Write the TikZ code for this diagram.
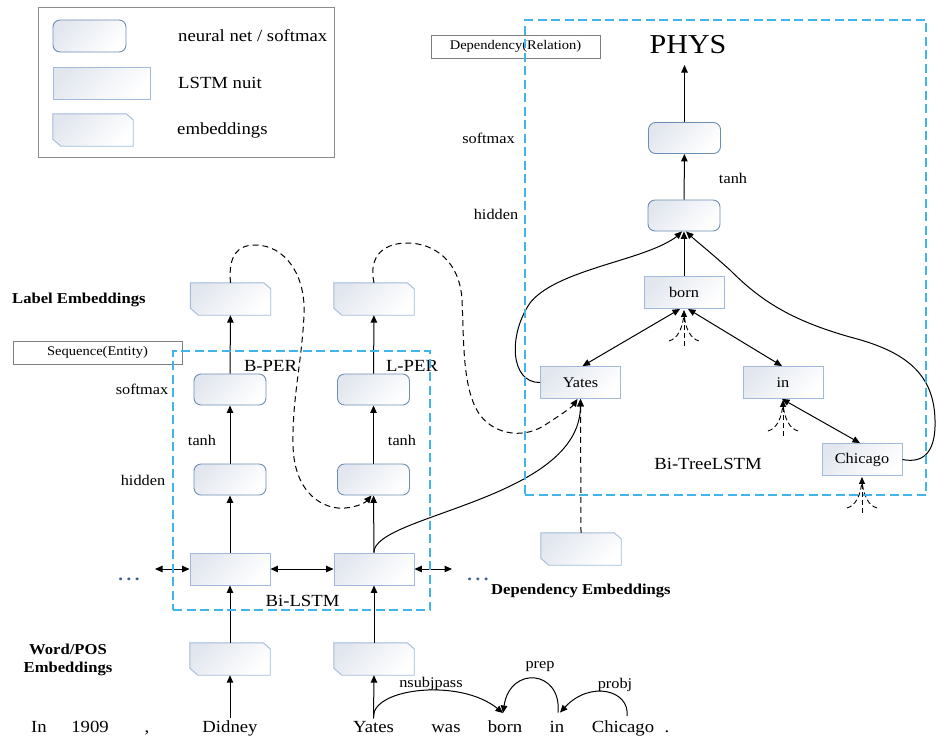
\documentclass[tikz,border=0pt]{standalone}
\usepackage{fontspec}
\setmainfont{Liberation Serif}[FakeStretch=1.1]
\usetikzlibrary{arrows.meta}

\definecolor{nnedge}{HTML}{6E8DB5}
\definecolor{lstmedge}{HTML}{A2BADA}
\definecolor{fillgray}{HTML}{E2E7EF}
\definecolor{regionblue}{HTML}{41B4EE}
\definecolor{taggray}{HTML}{7F7F7F}
\definecolor{framegray}{HTML}{8C8C8C}
\definecolor{dotblue}{HTML}{3C5F8F}

\newcommand\fsBig{\fontsize{17}{20}\selectfont}
\newcommand\fsMid{\fontsize{14.8}{17}\selectfont}
\newcommand\fsSmall{\fontsize{13.2}{15}\selectfont}
\newcommand\fsBold{\fontsize{15.1}{17.5}\selectfont\bfseries}

\tikzset{
  gradfill/.style={top color=fillgray, bottom color=white, shading angle=45},
  nnbox/.style={rectangle, rounded corners=7pt, draw=nnedge, line width=0.9pt,
    gradfill, minimum width=72pt, minimum height=31pt, inner sep=0pt},
  lstmbox/.style={rectangle, draw=lstmedge, line width=0.9pt, gradfill,
    minimum width=80pt, minimum height=32pt, inner sep=0pt, font=\fsMid},
  embanchor/.style={rectangle, minimum width=80pt, minimum height=32pt, inner sep=0pt},
  embedge/.style={draw=lstmedge, line width=0.9pt, gradfill},
  tagbox/.style={rectangle, draw=taggray, fill=white, line width=0.8pt, font=\fsSmall, inner sep=0pt},
  legendframe/.style={rectangle, draw=framegray, line width=0.9pt, inner sep=0pt},
  region/.style={draw=regionblue, line width=1.2pt, dash pattern=on 9pt off 4.5pt, inner sep=0pt},
  lbl/.style={font=\fsMid, inner sep=1pt},
  biglbl/.style={font=\fsBig, inner sep=1pt},
  boldlbl/.style={font=\fsBold, inner sep=1pt},
  word/.style={font=\fsBig, inner sep=2pt, anchor=base},
  dots/.style={text=dotblue, font=\fsBig\bfseries, inner sep=0pt, anchor=base},
  arr/.style={-{Triangle[length=7.5pt,width=6.5pt]}, line width=1pt},
  darr/.style={{Triangle[length=7.5pt,width=6.5pt]}-{Triangle[length=7.5pt,width=6.5pt]}, line width=1pt},
  dline/.style={line width=1pt, dash pattern=on 6pt off 4pt},
  dasharr/.style={arr, dash pattern=on 6pt off 4pt},
  fan/.pic={
    \draw[line width=0.9pt, dash pattern=on 5pt off 3pt] (-15,32) .. controls (-7,30) and (-1,20) .. (0,4);
    \draw[line width=0.9pt, dash pattern=on 5pt off 3pt] (15,32) .. controls (7,30) and (1,20) .. (0,4);
    \draw[line width=0.9pt, dash pattern=on 5pt off 3pt, -{Triangle[length=7pt,width=6pt]}] (0,37) -- (0,1);
  }
}

% embedding block: a named box with its top-right and bottom-left corners cut off
\newcommand\embnode[2]{%
  \node[embanchor] (#1) at (#2) {};
  \path[embedge] (#1.north west) -- ([xshift=-7pt]#1.north east)
    -- ([yshift=-6pt]#1.north east) -- (#1.south east)
    -- ([xshift=8pt]#1.south west) -- ([yshift=7pt]#1.south west) -- cycle;
}

\begin{document}
\begin{tikzpicture}[x=1pt,y=-1pt]
\useasboundingbox (0,0) rectangle (936,740);

% ---------- key ----------
\node[legendframe, minimum width=296pt, minimum height=150pt] (legend) at (186,82) {};
\node[nnbox, minimum width=73pt, minimum height=32pt] (keynn) at (89.5,36) {};
\node[lstmbox, minimum width=97pt] (keylstm) at (101.5,83) {};
\embnode{keyemb}{93,130}
\node[biglbl, anchor=west] (keynntxt) at (177,36) {neural net / softmax};
\node[biglbl, anchor=west] (keylstmtxt) at (177,83) {LSTM nuit};
\node[biglbl, anchor=west] (keyembtxt) at (176,130) {embeddings};

% ---------- side captions ----------
\node[boldlbl, anchor=west] (labemb) at (11,300) {Label Embeddings};
\node[boldlbl, align=center] (wordpos) at (68,660) {Word/POS\\Embeddings};
\node[boldlbl, anchor=west] (depembtxt) at (490,591) {Dependency Embeddings};
\node[tagbox, minimum width=169pt, minimum height=23pt] (seqtag) at (97.5,352.5) {Sequence(Entity)};
\node[tagbox, minimum width=169pt, minimum height=23pt] (reltag) at (515.5,46.5) {Dependency(Relation)};

% ---------- sequence layer ----------
\embnode{lab1}{230.5,299}
\embnode{lab2}{374,299}
\node[nnbox] (sm1) at (230,389.5) {};
\node[nnbox] (sm2) at (373.5,389.5) {};
\node[nnbox] (hid1) at (230,479.5) {};
\node[nnbox] (hid2) at (373.5,479.5) {};
\node[lstmbox] (lstm1) at (230,569) {};
\node[lstmbox] (lstm2) at (374,569) {};
\embnode{emb1}{230,659}
\embnode{emb2}{374,659}

\node[lbl] (smtxt1) at (142,389) {softmax};
\node[lbl] (hidtxt1) at (143,480) {hidden};
\node[lbl] (tanh1) at (202,440) {tanh};
\node[lbl] (tanh2) at (402,440) {tanh};
\node[biglbl] (bper) at (270.5,366) {B-PER};
\node[biglbl] (lper) at (412,366) {L-PER};
\node[biglbl] (bilstm) at (302.5,601) {Bi-LSTM};
\node[dots] (ldots) at (129,580) {.\hspace{3.5pt}.\hspace{3.5pt}.};
\node[dots] (rdots) at (478,580) {.\hspace{3.5pt}.\hspace{3.5pt}.};
\coordinate (lfree) at (155,569);
\coordinate (rfree) at (452,569);

% ---------- tree layer ----------
\embnode{depemb}{581,549}
\node[nnbox] (sm3) at (684.5,138) {};
\node[nnbox] (hid3) at (684,215.5) {};
\node[lstmbox] (born) at (684,292.5) {born};
\node[lstmbox] (yates) at (580.5,382.5) {Yates};
\node[lstmbox] (inw) at (783,382.5) {in};
\node[lstmbox] (chicago) at (862,459.5) {Chicago};
\node[font=\fontsize{27.3}{30}\selectfont, inner sep=0pt] (phys) at (688,45) {PHYS};
\node[lbl] (smtxt3) at (488.5,138) {softmax};
\node[lbl] (hidtxt3) at (496,214) {hidden};
\node[lbl] (tanh3) at (733,178) {tanh};
\node[biglbl] (bitree) at (708,464) {Bi-TreeLSTM};

% ---------- sentence ----------
\node[word] (wIn) at (39,732) {In};
\node[word] (w1909) at (90,732) {1909};
\node[word] (wcomma) at (147,732) {,};
\node[word] (wdid) at (230,732) {Didney};
\node[word] (wyates) at (373.5,732) {Yates};
\node[word] (wwas) at (446,732) {was};
\node[word] (wborn) at (505,732) {born};
\node[word] (win) at (557,732) {in};
\node[word] (wchicago) at (623,732) {Chicago};
\node[word] (wdot) at (667,732) {.};
\node[lbl] (nsubj) at (431,684) {nsubjpass};
\node[lbl] (prep) at (540,667) {prep};
\node[lbl] (probj) at (615,685) {probj};

% ---------- connectors: sequence layer ----------
\draw[arr] (wdid.north) -- (emb1.south);
\draw[arr] (wyates.north) -- (emb2.south);
\draw[arr] (emb1) -- (lstm1);
\draw[arr] (emb2) -- (lstm2);
\draw[arr] (lstm1) -- (hid1);
\draw[arr] (lstm2) -- (hid2);
\draw[arr] (hid1) -- (sm1);
\draw[arr] (hid2) -- (sm2);
\draw[arr] (sm1) -- (lab1);
\draw[arr] (sm2) -- (lab2);
\draw[darr] (lfree) -- (lstm1.west);
\draw[darr] (lstm1.east) -- (lstm2.west);
\draw[darr] (lstm2.east) -- (rfree);

% label feedback loops
\draw[dline, -{Triangle[length=7.5pt,width=6.5pt]}] (lab1.north)
  .. controls (228,255) and (238,245) .. (255,245)
  .. controls (285,245) and (306,275) .. (304,315)
  .. controls (302,360) and (292,400) .. (293,445)
  .. controls (294,495) and (325,510) .. (345,508)
  .. controls (358,507) and (366,502) .. ([xshift=-2pt]hid2.south);
\draw[dline, -{Triangle[length=7.5pt,width=6.5pt]}] (lab2.north)
  .. controls (368,255) and (385,243) .. (407,243)
  .. controls (435,243) and (460,262) .. (462,300)
  .. controls (464,340) and (462,390) .. (480,415)
  .. controls (495,435) and (525,440) .. (548,423)
  .. controls (562,414) and (572,407) .. ([xshift=-3pt]yates.south);

% sequence output into the tree
\draw[arr] (lstm2.north) .. controls (373,515) and (580,500) .. (yates.south);
\draw[dasharr] (depemb.north) -- (yates.south);

% ---------- connectors: tree layer ----------
\draw[arr] (hid3) -- (sm3);
\draw[arr] (sm3.north) -- ++(0,-57);
\draw[arr] (born) -- (hid3);
\draw[arr] (yates.west)
  .. controls (510,383) and (508,335) .. (530,303)
  .. controls (550,277) and (610,265) .. (645,252)
  .. controls (665,245) and (675,238) .. ([xshift=-2pt]hid3.south);
\draw[arr] (chicago.east)
  .. controls (925,464) and (936,450) .. (935,420)
  .. controls (934,370) and (900,350) .. (850,337)
  .. controls (790,320) and (760,300) .. (730,270)
  .. controls (710,252) and (695,240) .. ([xshift=2pt]hid3.south);
\draw[darr] ([xshift=-4pt]born.south) -- ([xshift=2pt]yates.north);
\draw[darr] ([xshift=4pt]born.south) -- ([xshift=-1pt]inw.north);
\draw[darr] ([xshift=-1pt]inw.south) -- ([xshift=-2pt]chicago.north);
\pic at (born.south) {fan};
\pic at (inw.south) {fan};
\pic at (chicago.south) {fan};

% ---------- dependency arcs ----------
\draw[arr] ([yshift=2pt]wyates.north) .. controls (373,688) and (460,678) .. ([xshift=-2pt,yshift=5pt]wborn.north);
\draw[arr] ([xshift=1pt,yshift=6pt]win.north) .. controls (562,670) and (510,665) .. ([xshift=-2pt,yshift=5pt]wborn.north);
\draw[arr] ([xshift=4pt,yshift=2pt]wchicago.north) .. controls (630,690) and (590,680) .. ([xshift=3pt,yshift=6pt]win.north);

% ---------- dashed regions ----------
\node[region, minimum width=257pt, minimum height=259pt] (seqregion) at (301.5,480.5) {};
\node[region, minimum width=401pt, minimum height=475pt] (treeregion) at (725.5,257.5) {};
\end{tikzpicture}
\end{document}
